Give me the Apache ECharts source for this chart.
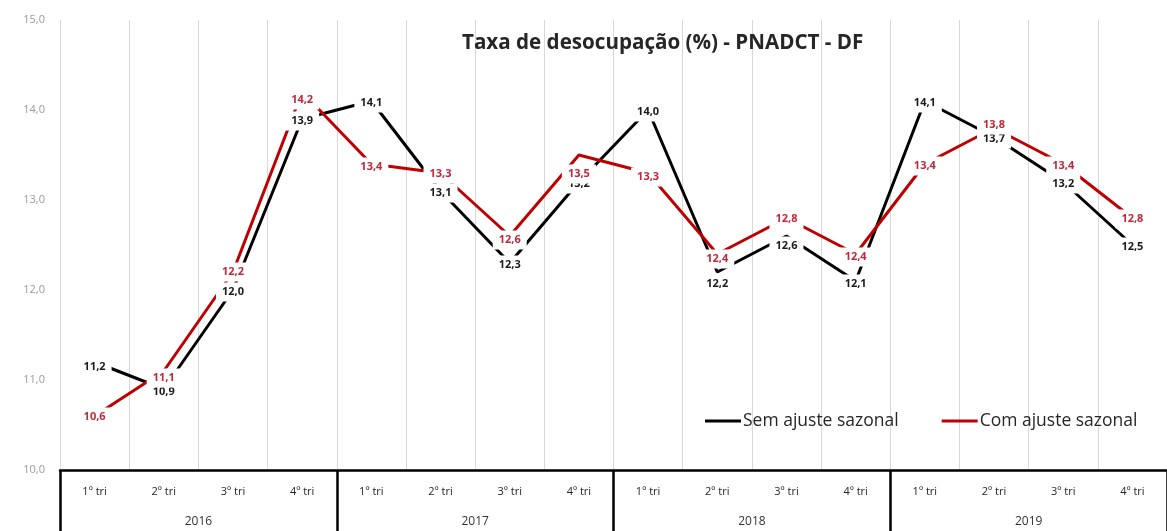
<!DOCTYPE html>
<html>
<head>
<meta charset="utf-8">
<script src="https://cdn.jsdelivr.net/npm/echarts@6/dist/echarts.min.js"></script>
<style>
html,body{margin:0;padding:0;background:#fff;}
#chart{width:1167px;height:531px;}
</style>
</head>
<body>
<div id="chart"></div>
<script>
const title = 'Taxa de desocupação (%) - PNADCT - DF';
const years = ['2016', '2017', '2018', '2019'];
const quarters = ['1º tri', '2º tri', '3º tri', '4º tri'];
const seriesNames = ['Sem ajuste sazonal', 'Com ajuste sazonal'];
const semAjuste = [11.2, 10.9, 12.0, 13.9, 14.1, 13.1, 12.3, 13.2, 14.0, 12.2, 12.6, 12.1, 14.1, 13.7, 13.2, 12.5];
const comAjuste = [10.6, 11.1, 12.2, 14.2, 13.4, 13.3, 12.6, 13.5, 13.3, 12.4, 12.8, 12.4, 13.4, 13.8, 13.4, 12.8];
const yTicks = [10, 11, 12, 13, 14, 15];

// style: vertical label nudges (px) per point
const semLabelDy = [5, 3, 2, 2, 2, 2, 2, 2, 2, 12, 10, 3, 2, 2, 2, 2];
const comLabelDy = [1, 7, 0, 8, 3, 1, 4, 19, 4, 5, 1, 3, 2, -3, 2, 1];

const categories = [];
years.forEach(y => quarters.forEach(q => categories.push(y + '|' + q)));
const fmt = v => v.toFixed(1).replace('.', ',');

const chart = echarts.init(document.getElementById('chart'));
const FONT = '"Open Sans", "Liberation Sans", sans-serif';

function mkSeries(name, values, color, labelColor, dy) {
  return {
    name: name,
    type: 'line',
    symbol: 'circle',
    symbolSize: 1,
    showSymbol: true,
    lineStyle: { color: color, width: 3 },
    itemStyle: { color: color },
    emphasis: { disabled: true },
    z: 2,
    data: values.map((v, i) => ({
      value: v,
      label: { position: [0.5, 0.5 + dy[i]] }
    })),
    label: {
      show: true,
      align: 'center',
      verticalAlign: 'middle',
      formatter: p => fmt(p.value),
      color: labelColor,
      fontFamily: FONT,
      fontWeight: 'bold',
      fontSize: 11,
      backgroundColor: '#ffffff',
      padding: [4, 6]
    },
    labelLayout: { hideOverlap: false }
  };
}

chart.setOption({
  animation: false,
  backgroundColor: '#ffffff',
  title: {
    text: title,
    left: 457,
    top: 28,
    textStyle: { fontFamily: FONT, fontWeight: 'bold', fontSize: 20.6, color: '#262626' }
  },
  legend: {
    data: seriesNames.map(n => ({ name: n, icon: 'rect' })),
    left: 705,
    top: 412,
    padding: 0,
    itemWidth: 36,
    itemHeight: 3,
    itemGap: 43,
    textStyle: { fontFamily: FONT, fontSize: 17.5, color: '#262626', padding: [0, 0, 0, -3] }
  },
  grid: { left: 60, width: 1130, top: 20, bottom: 61, containLabel: false },
  xAxis: [
    {
      type: 'category',
      data: categories,
      boundaryGap: true,
      position: 'bottom',
      axisLine: { show: true, lineStyle: { color: '#000', width: 2.5 } },
      axisTick: { show: false },
      splitLine: { show: true, interval: 0, lineStyle: { color: '#d9d9d9', width: 1 } },
      axisLabel: {
        interval: 0,
        margin: 16,
        formatter: v => v.split('|')[1],
        fontFamily: FONT,
        fontSize: 11,
        color: '#262626'
      }
    },
    {
      type: 'category',
      data: years,
      boundaryGap: true,
      position: 'bottom',
      axisLine: { show: false },
      axisTick: { show: true, interval: 0, length: 70, lineStyle: { color: '#000', width: 2.5 } },
      splitLine: { show: false },
      axisLabel: {
        interval: 0,
        margin: 46,
        fontFamily: FONT,
        fontSize: 12,
        color: '#333'
      }
    }
  ],
  yAxis: {
    type: 'value',
    min: yTicks[0],
    max: yTicks[yTicks.length - 1],
    interval: 1,
    axisLine: { show: false },
    axisTick: { show: false },
    splitLine: { show: false },
    axisLabel: {
      margin: 15,
      formatter: v => fmt(v),
      fontFamily: FONT,
      fontSize: 11,
      color: '#9a9a9a'
    }
  },
  series: [
    mkSeries(seriesNames[0], semAjuste, '#000000', '#1a1a1a', semLabelDy),
    mkSeries(seriesNames[1], comAjuste, '#c00000', '#c0283a', comLabelDy)
  ]
});
</script>
</body>
</html>
